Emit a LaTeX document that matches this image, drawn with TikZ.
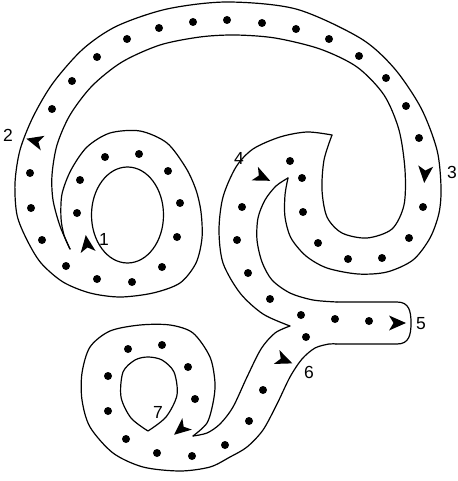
\documentclass[tikz,border=0pt]{standalone}
\usepackage{fontspec}
\setmainfont{Liberation Sans}
\newcommand\flowarrow[3]{\fill[shift={(#1,#2)},rotate=#3] (9,0) -- (-8,7.5) -- (-3.5,0) -- (-8,-7.5) -- cycle;}
\tikzset{
  wall/.style={line width=1.2pt, line join=round, line cap=round},
  dot/.style={fill=black},
  lab/.style={font=\fontsize{17.5}{19}\selectfont, inner sep=0pt}
}
\begin{document}
\begin{tikzpicture}[x=1pt,y=-1pt]
\useasboundingbox (0,0) rectangle (457,481);
% segment A -> B : big arc inner wall and inner side of the U
\draw[wall] plot[smooth] coordinates {(70,249) (60,226) (53,200) (52,175) (57,145) (70,115) (92,86) (122,62) (160,45) (200,37) (235,35) (275,38) (320,49) (357,67) (384,95) (399,130) (405,170) (404,205) (392,229) (367,238) (342,233) (327,217) (322,190) (324,160) (332,135)};
% segment B -> J : outer wall of the 4 tube
\draw[wall] plot[smooth] coordinates {(332,135) (307,132) (280,137) (253,149) (236,167) (223,197) (219,230) (223,263) (240,293) (263,314) (290,326)};
% segment J -> C : left wall of the 6 tube
\draw[wall] plot[smooth] coordinates {(290,326) (275,333) (261,349) (247,377) (233,407) (220,424) (207,433) (193,436)};
% segment C -> arm : ring 7 outer wall and right wall of the 6 tube
\draw[wall] plot[smooth] coordinates {(193,436) (207,423) (213,403) (215,383) (210,357) (193,333) (170,325) (140,325) (110,331) (90,347) (82,373) (82,400) (90,427) (113,453) (143,467) (180,471) (210,467) (230,457) (247,447) (263,430) (277,404) (290,377) (302,359) (315,348) (329,344) (336,344)};
% arm 5
\draw[wall] (336,344) -- (397,344) .. controls (409,344) and (411,335) .. (411,323) .. controls (411,311) and (409,302) .. (397,302) -- (337,302);
% inner wall of the 4 tube up to tip D
\draw[wall] plot[smooth] coordinates {(337,302) (313,300) (290,293) (272,280) (262,262) (257,240) (258,218) (265,200) (276,186) (288,178)};
% segment D -> A : outer side of the U, big arc outer wall, ring 1 outer wall
\draw[wall] plot[smooth] coordinates {(288,178) (285,195) (285,217) (291,238) (306,256) (327,268) (358,274) (387,272) (413,260) (430,238) (439,213) (441,187) (437,150) (421,108) (394,68) (360,38) (296,9) (227,2) (167,9) (117,26) (83,49) (53,83) (33,117) (20,150) (15,183) (17,215) (27,240) (41,263) (63,282) (90,293) (120,297) (153,293) (180,283) (196,263) (202,238) (201,212) (196,190) (186,168) (167,143) (140,131) (110,133) (87,147) (71,170) (62,194) (61,218) (64,235) (70,249)};
% holes
\draw[wall] (127.5,215) ellipse[x radius=36, y radius=48];
\draw[wall] plot[smooth] coordinates {(148,431) (131,418) (121,397) (123,372) (135,360) (148,357) (162,360) (174,372) (177,395) (166,417) (148,431)};
% dots
\foreach \p in {(77,213), (80,180), (105,157), (139,154), (168,171), (180,203), (177,237), (162,267), (132,282), (97,279), (66,266), (42,240), (31,208), (30,173), (52,109), (72,81), (97,57), (127,39), (159,28), (193,22), (227,20), (262,23), (296,29), (329,39), (359,56), (386,78), (406,106), (419,138), (423,207), (409,238), (382,258), (348,259), (318,243), (303,212), (302,178), (290,161), (242,207), (237,240), (248,273), (270,299), (301,315), (335,319), (369,321), (306,337), (263,390), (249,421), (225,445), (192,456), (157,453), (126,439), (108,411), (108,376), (128,349), (162,345), (188,367), (195,399)}
  \fill[dot] \p circle[radius=4pt];
% arrows
\flowarrow{87}{244}{98}
\flowarrow{35}{141}{165}
\flowarrow{425}{174}{265}
\flowarrow{262}{177}{-25}
\flowarrow{397}{323}{0}
\flowarrow{284}{360}{-22}
\flowarrow{181}{429}{220}
% labels
\node[lab] (l1) at (104,239) {1};
\node[lab] (l2) at (8,135) {2};
\node[lab] (l3) at (452,172) {3};
\node[lab] (l4) at (239,158) {4};
\node[lab] (l5) at (421,324) {5};
\node[lab] (l6) at (309,372) {6};
\node[lab] (l7) at (158,412) {7};
\end{tikzpicture}
\end{document}
